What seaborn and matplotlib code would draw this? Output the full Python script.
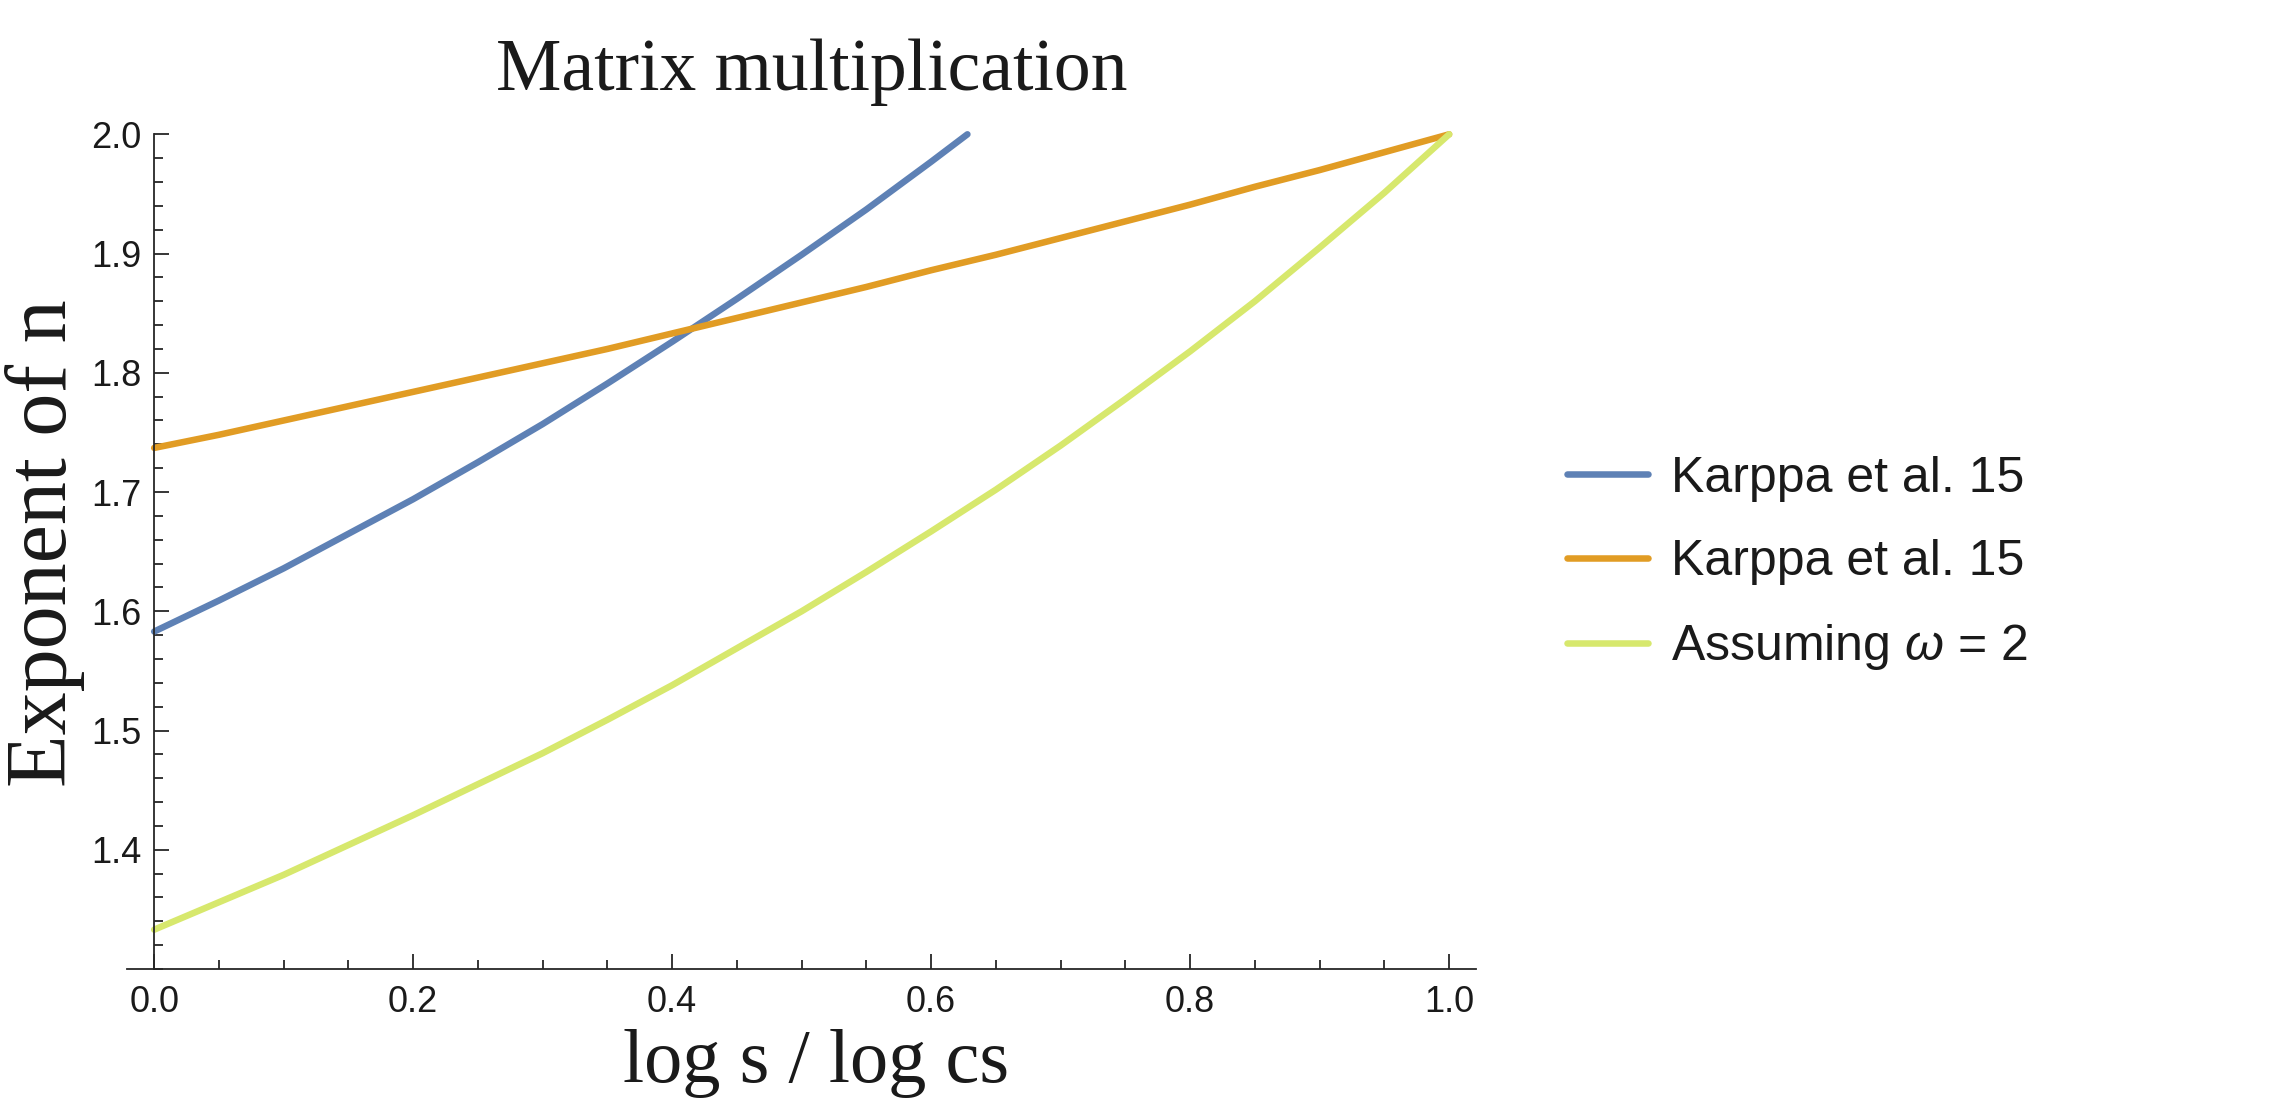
import numpy as np
import pandas as pd
import matplotlib
matplotlib.use("Agg")
import matplotlib.pyplot as plt
import seaborn as sns
from matplotlib.ticker import MultipleLocator, FixedLocator, FormatStrFormatter

# ---- data ----
x_blue = [0.00, 0.05, 0.10, 0.15, 0.20, 0.25, 0.30, 0.35, 0.40, 0.45, 0.50, 0.55, 0.60, 0.628]
y_blue = [1.583, 1.609, 1.636, 1.665, 1.694, 1.725, 1.757, 1.791, 1.826, 1.862, 1.899, 1.937, 1.977, 2.000]

x_full = [0.00, 0.05, 0.10, 0.15, 0.20, 0.25, 0.30, 0.35, 0.40, 0.45, 0.50,
          0.55, 0.60, 0.65, 0.70, 0.75, 0.80, 0.85, 0.90, 0.95, 1.00]
y_orange = [1.737, 1.748, 1.760, 1.772, 1.784, 1.796, 1.808, 1.820, 1.833, 1.846, 1.859,
            1.872, 1.886, 1.899, 1.913, 1.927, 1.941, 1.956, 1.970, 1.985, 2.000]
y_green = [1.333, 1.356, 1.379, 1.404, 1.429, 1.455, 1.481, 1.509, 1.538, 1.569, 1.600,
           1.633, 1.667, 1.702, 1.739, 1.778, 1.818, 1.860, 1.905, 1.951, 2.000]

labels = ["Karppa et al. 15", "Karppa et al. 15", "Assuming $\\omega$ = 2"]
colors = ["#5E81B5", "#E19C24", "#D7E86D"]

x_ticks = [0.0, 0.2, 0.4, 0.6, 0.8, 1.0]
y_ticks = [1.4, 1.5, 1.6, 1.7, 1.8, 1.9, 2.0]

title = "Matrix multiplication"
xlabel = "log s / log cs"
ylabel = "Exponent of n"

# ---- style ----
sns.set_theme(style="white")
plt.rcParams["font.family"] = ["Liberation Sans", "DejaVu Sans"]
plt.rcParams["mathtext.fontset"] = "custom"
plt.rcParams["mathtext.rm"] = "Liberation Sans"
plt.rcParams["mathtext.it"] = "Liberation Sans:italic"

W, H = 2286, 1098
fig = plt.figure(figsize=(W / 100, H / 100), dpi=100)
fig.patch.set_facecolor("white")
ax = fig.add_axes([127 / W, 1 - 969 / H, (1475.7 - 127) / W, (969 - 134.3) / H])
ax.set_facecolor("white")

series = [(x_blue, y_blue), (x_full, y_orange), (x_full, y_green)]
for (xs, ys), lab, col in zip(series, labels, colors):
    df = pd.DataFrame({"x": xs, "y": ys})
    sns.lineplot(data=df, x="x", y="y", ax=ax, color=col, linewidth=4.7,
                 label=lab, clip_on=False, errorbar=None)

ax.set_xlim(-0.021, 1.0205)
ax.set_ylim(1.3, 2.0)

axis_col = "#262626"
for s in ["top", "right"]:
    ax.spines[s].set_visible(False)
ax.spines["left"].set_position(("data", 0))
for s in ["left", "bottom"]:
    ax.spines[s].set_color(axis_col)
    ax.spines[s].set_linewidth(1.3)

ax.xaxis.set_major_locator(FixedLocator(x_ticks))
ax.xaxis.set_minor_locator(MultipleLocator(0.05))
ax.yaxis.set_major_locator(FixedLocator(y_ticks))
ax.yaxis.set_minor_locator(MultipleLocator(0.02))
ax.xaxis.set_major_formatter(FormatStrFormatter("%.1f"))
ax.yaxis.set_major_formatter(FormatStrFormatter("%.1f"))

ax.tick_params(which="both", direction="in", color=axis_col, width=1.3,
               top=False, right=False, left=True, bottom=True,
               labelcolor="#1a1a1a")
ax.tick_params(which="major", length=10.8)
ax.tick_params(which="minor", length=6.2)
ax.tick_params(axis="x", which="major", labelsize=26, pad=11.5)
ax.tick_params(axis="y", which="major", labelsize=26, pad=9.0)

ax.set_xlabel(xlabel, fontsize=55, family="Liberation Serif", color="#1a1a1a")
ax.xaxis.set_label_coords(816 / W, 1 - 1082 / H, transform=fig.transFigure)
ax.xaxis.label.set_verticalalignment("baseline")

ax.set_ylabel(ylabel, fontsize=62, family="Liberation Serif", color="#1a1a1a")
ax.yaxis.set_label_coords(66 / W, 1 - 543 / H, transform=fig.transFigure)
ax.yaxis.label.set_verticalalignment("baseline")

fig.text(812 / W, 1 - 90 / H, title, ha="center", va="baseline", fontsize=53,
         family="Liberation Serif", color="#1a1a1a")

leg = ax.legend(loc="center left", bbox_to_anchor=(1567 / W, 1 - 564 / H),
                bbox_transform=fig.transFigure, frameon=False, fontsize=36,
                handlelength=1.62, handletextpad=0.46, labelspacing=0.75,
                borderpad=0, borderaxespad=0)
for t in leg.get_texts():
    t.set_color("#1a1a1a")

fig.savefig("out.png", dpi=100, facecolor="white")
